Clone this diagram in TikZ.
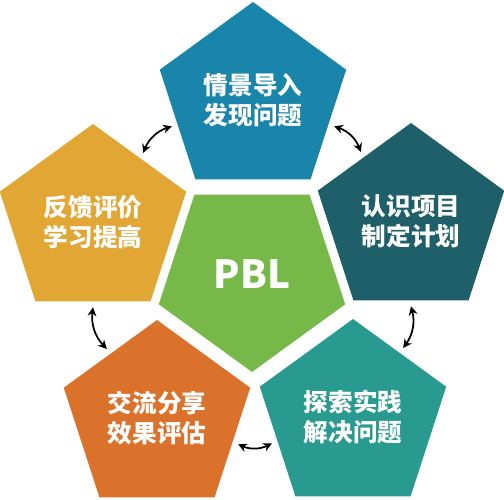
\documentclass[tikz,border=0pt]{standalone}
\usepackage{fontspec}
\usepackage{tikz}
\usepackage{xcolor}
\usetikzlibrary{shapes.geometric,arrows.meta,positioning}
\newfontfamily\cjk{Noto Sans CJK SC}
\definecolor{pblgreen}{HTML}{77B948}
\definecolor{stepblue}{HTML}{1985AA}
\definecolor{stepdark}{HTML}{1E5F6A}
\definecolor{stepteal}{HTML}{289A8F}
\definecolor{steporange}{HTML}{DB722C}
\definecolor{stepyellow}{HTML}{E2A634}

\begin{document}
\begin{tikzpicture}[
  penta/.style={regular polygon, regular polygon sides=5, minimum size=3.92cm,
    inner sep=0pt, outer sep=0.12cm, fill=#1, text=white, align=center,
    font=\cjk\bfseries\fontsize{14}{17}\selectfont},
  link/.style={{Stealth[length=5pt,width=5pt]}-{Stealth[length=5pt,width=5pt]},
    line width=1pt, bend left=25}
]
\useasboundingbox (0,0) rectangle (10.08,10);
\node[penta=pblgreen, shape border rotate=180,
  font=\cjk\bfseries\fontsize{22}{26}\selectfont] (pbl) at (5.04,4.52) {PBL};
\node[penta=stepblue] (intro) at (5.06,8.00) {情景导入\\发现问题};
\node[penta=stepdark] (plan) at (8.22,5.58) {认识项目\\制定计划};
\node[penta=stepteal] (explore) at (7.06,1.66) {探索实践\\解决问题};
\node[penta=steporange] (share) at (3.14,1.64) {交流分享\\效果评估};
\node[penta=stepyellow] (review) at (1.86,5.56) {反馈评价\\学习提高};
\draw[link] (review.side 5) to (intro.side 2);
\draw[link] (intro.side 4) to (plan.side 1);
\draw[link] (plan.side 3) to (explore.side 5);
\draw[link] (explore.side 2) to (share.side 4);
\draw[link] (share.side 1) to (review.side 3);
\end{tikzpicture}
\end{document}
